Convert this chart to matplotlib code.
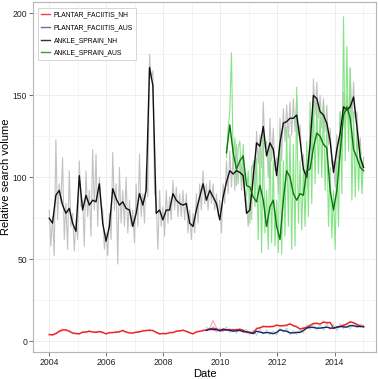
import numpy as np
import matplotlib
matplotlib.use("Agg")
import matplotlib.pyplot as plt
from matplotlib.lines import Line2D

plt.rcParams['font.family'] = ['Liberation Sans', 'DejaVu Sans']

# sampling grid of the series (decimal years)
START = 2004.0
STEP = 0.1172          # smoothed series
RAW_STEP = STEP / 2    # raw weekly-ish series, thinned

# ANKLE_SPRAIN_NH smoothed (2004 -> 2015)
ankle_nh = [75, 72, 89, 92, 83, 78, 81, 72, 67, 101,
            80, 89, 83, 86, 85, 96, 72, 61, 70, 93,
            87, 83, 85, 81, 80, 70, 78, 90, 83, 92,
            167, 156, 78, 80, 74, 80, 80, 90, 86, 84,
            83, 84, 72, 70, 80, 88, 96, 86, 92, 88,
            84, 74, 88, 97, 104, 102, 104, 103, 101, 78,
            80, 100, 121, 119, 131, 113, 121, 117, 101, 121,
            133, 134, 136, 136, 138, 123, 105, 100, 120, 150,
            148, 140, 138, 133, 122, 103, 117, 127, 143, 141,
            143, 149, 131, 112, 106]

# ANKLE_SPRAIN_NH raw
ankle_nh_raw = [80, 58, 76, 52, 123, 74, 96, 84, 112, 62,
                84, 56, 104, 70, 78, 55, 74, 62, 110, 82,
                86, 58, 104, 76, 92, 64, 117, 80, 114, 70,
                100, 84, 80, 56, 66, 52, 78, 62, 115, 80,
                96, 47, 106, 72, 92, 70, 100, 66, 86, 70,
                80, 60, 96, 70, 114, 76, 90, 72, 106, 88,
                175, 160, 165, 90, 86, 56, 92, 70, 82, 64,
                92, 72, 88, 74, 98, 80, 94, 76, 90, 76,
                92, 74, 90, 66, 80, 62, 78, 66, 90, 72,
                96, 80, 104, 84, 96, 80, 98, 84, 96, 80,
                90, 76, 86, 66, 96, 84, 110, 90, 116, 94,
                114, 92, 120, 96, 112, 92, 108, 90, 86, 70,
                92, 74, 110, 92, 128, 108, 126, 106, 146, 118,
                122, 100, 136, 110, 130, 104, 112, 90, 136, 110,
                142, 122, 144, 124, 146, 126, 148, 128, 150, 126,
                132, 110, 114, 94, 110, 92, 132, 110, 160, 138,
                158, 136, 150, 130, 148, 128, 144, 120, 130, 108,
                110, 94, 126, 104, 140, 116, 152, 130, 150, 132,
                166, 134, 158, 136, 140, 118, 124, 100, 112]

# ANKLE_SPRAIN_AUS smoothed (from grid index 53)
AUS_START = 53
ankle_aus = [115, 132, 115, 105, 110, 113, 95, 94, 88, 85,
             95, 86, 70, 82, 86, 70, 62, 86, 104, 100,
             90, 86, 90, 89, 104, 105, 118, 127, 125, 120,
             118, 92, 80, 92, 115, 138, 143, 136, 117, 112,
             106, 104]

# ANKLE_SPRAIN_AUS raw
ankle_aus_raw = [112, 130, 140, 176, 110, 124, 95, 118, 122, 98,
                 120, 92, 88, 104, 72, 106, 108, 82, 112, 62,
                 118, 54, 126, 66, 92, 56, 121, 60, 110, 58,
                 86, 54, 127, 53, 110, 64, 131, 70, 126, 56,
                 120, 58, 155, 72, 110, 68, 106, 70, 122, 76,
                 146, 84, 150, 96, 146, 102, 140, 100, 146, 92,
                 132, 70, 106, 63, 92, 56, 110, 70, 140, 90,
                 198, 110, 180, 116, 167, 86, 140, 88, 130, 92,
                 120, 90, 112]

# PLANTAR_FACIITIS_NH smoothed and raw
plantar_nh = [3.9, 3.9, 4.5, 5.9, 6.7, 6.9, 5.9, 5.0, 4.5, 4.5,
              5.3, 5.6, 5.9, 5.6, 5.3, 5.9, 5.2, 4.5, 5.0, 5.3,
              5.3, 5.8, 6.3, 5.6, 4.9, 5.0, 5.3, 5.7, 6.1, 6.5,
              6.5, 6.5, 5.2, 4.5, 4.5, 4.6, 5.0, 5.3, 5.9, 6.3,
              6.5, 6.0, 5.0, 4.5, 5.5, 6.0, 6.3, 6.9, 7.3, 7.8,
              7.5, 6.2, 6.5, 6.9, 6.9, 6.9, 6.9, 7.2, 6.5, 5.5,
              5.0, 5.2, 7.5, 8.2, 8.8, 8.9, 8.7, 9.0, 9.6, 9.4,
              9.3, 9.8, 10.4, 9.5, 8.6, 7.4, 7.8, 8.4, 9.5, 10.8,
              10.7, 10.5, 11.5, 11.3, 11.2, 8.0, 8.3, 9.0, 9.6, 10.5,
              11.6, 11.3, 10.0, 9.3, 8.5]
plantar_nh_raw = [4.5, 3.2, 5.0, 6.5, 7.4, 6.2, 6.6, 4.4, 5.1, 4.0,
                  5.9, 5.0, 6.6, 5.1, 5.9, 5.3, 5.8, 4.0, 5.6, 4.8,
                  5.9, 5.2, 7.0, 5.0, 5.5, 4.5, 5.9, 5.1, 6.8, 6.0,
                  7.2, 6.0, 5.8, 4.0, 5.1, 4.1, 5.6, 4.8, 6.5, 5.8,
                  7.1, 5.5, 5.6, 4.0, 6.1, 5.5, 7.0, 6.3, 8.0, 12.5,
                  8.1, 5.7, 7.1, 6.3, 7.6, 6.2, 7.5, 6.6, 7.1, 5.0,
                  5.6, 4.7, 8.1, 7.6, 9.5, 8.3, 9.3, 8.5, 10.3, 8.8,
                  9.9, 9.0, 11.1, 8.9, 9.3, 6.8, 8.5, 7.8, 10.1, 10.2,
                  11.4, 10.0, 12.2, 10.6, 11.9, 7.4, 9.0, 8.4, 10.3, 9.9,
                  12.3, 10.7, 10.7, 8.6, 9.2]

# PLANTAR_FACIITIS_AUS smoothed and raw (from grid index 47)
PF_AUS_START = 47
plantar_aus = [6.5, 7.3, 7.0, 6.9, 6.5, 7.3, 6.9, 6.5, 6.0, 6.3,
               6.5, 5.8, 5.6, 5.3, 4.5, 6.0, 5.5, 4.9, 5.2, 5.0,
               4.5, 5.3, 6.9, 6.3, 6.0, 5.0, 5.0, 5.3, 5.3, 6.5,
               7.9, 8.5, 8.3, 7.9, 7.9, 8.2, 8.5, 7.9, 7.9, 8.5,
               8.9, 8.7, 8.5, 9.5, 9.3, 8.9, 8.9, 8.9]
plantar_aus_raw = [8.5, 6.0, 8.8, 5.5, 8.0, 5.8, 8.6, 5.2, 7.5, 4.8,
                   8.0, 5.0, 7.2, 4.0, 6.5, 3.5, 7.5, 4.2, 6.8, 3.8,
                   6.2, 3.6, 7.8, 5.4, 8.0, 3.8, 6.5, 3.9, 7.2, 5.0,
                   10.0, 7.0, 10.5, 6.8, 10.2, 6.6, 10.6, 7.0, 10.0, 6.5,
                   10.8, 7.5, 11.0, 7.4, 11.5, 8.0, 10.5, 9.5]

labels = ["PLANTAR_FACIITIS_NH", "PLANTAR_FACIITIS_AUS",
          "ANKLE_SPRAIN_NH", "ANKLE_SPRAIN_AUS"]


def years(n, step, first=0):
    return START + step * (first + np.arange(n))


fig = plt.figure(figsize=(3.78, 3.79), dpi=100)
ax = fig.add_axes([0.0886, 0.072, 0.906, 0.9227])

# raw layers
ax.plot(years(len(plantar_nh_raw), STEP), plantar_nh_raw, color="#f3a3a3", lw=0.7)
ax.plot(years(len(plantar_aus_raw), STEP, PF_AUS_START), plantar_aus_raw,
        color="#a8dcc0", lw=0.7)
ax.plot(years(len(ankle_nh_raw), RAW_STEP), ankle_nh_raw, color="#c2c2c2", lw=0.8)
ax.plot(years(len(ankle_aus_raw), RAW_STEP, 2 * AUS_START), ankle_aus_raw,
        color="#86e486", lw=0.8)

# smoothed lines
ax.plot(years(len(plantar_nh), STEP), plantar_nh, color="#ee2222", lw=1.0)
ax.plot(years(len(plantar_aus), STEP, PF_AUS_START), plantar_aus, color="#1c1c72", lw=1.0)
ax.plot(years(len(ankle_nh), STEP), ankle_nh, color="#111111", lw=1.0)
ax.plot(years(len(ankle_aus), STEP, AUS_START), ankle_aus, color="#087808", lw=1.0)

ax.set_xlim(2003.45, 2015.45)
ax.set_ylim(-6.5, 207)
ax.set_xticks(range(2004, 2015, 2))
ax.set_xticks(range(2005, 2016, 2), minor=True)
ax.set_yticks([0, 50, 100, 150, 200])
ax.set_yticks([25, 75, 125, 175], minor=True)
ax.grid(which="major", color="#ebebeb", lw=0.6)
ax.grid(which="minor", color="#f2f2f2", lw=0.5)
ax.set_axisbelow(True)
ax.tick_params(which="minor", length=0)
ax.tick_params(which="major", length=3, width=0.6, color="#555555",
               labelsize=6.2, labelcolor="#222222", pad=1.5)
for s in ax.spines.values():
    s.set_color("#b5b5b5")
    s.set_linewidth(0.8)

ax.set_xlabel("Date", fontsize=8, labelpad=1.5)
ax.set_ylabel("Relative search volume", fontsize=8, labelpad=1.0)

handles = [Line2D([], [], color=c, lw=1.0)
           for c in ["#e8474f", "#6b6ba8", "#333333", "#3a9a3a"]]
leg = ax.legend(handles, labels, loc="upper left", bbox_to_anchor=(0.013, 0.983),
                borderaxespad=0, fontsize=4.9, labelspacing=0.85,
                handlelength=1.2, handletextpad=0.6, borderpad=0.5,
                fancybox=False, framealpha=1)
leg.get_frame().set_edgecolor("#d0d0d0")
leg.get_frame().set_linewidth(0.6)

fig.savefig("out.png", dpi=100)
